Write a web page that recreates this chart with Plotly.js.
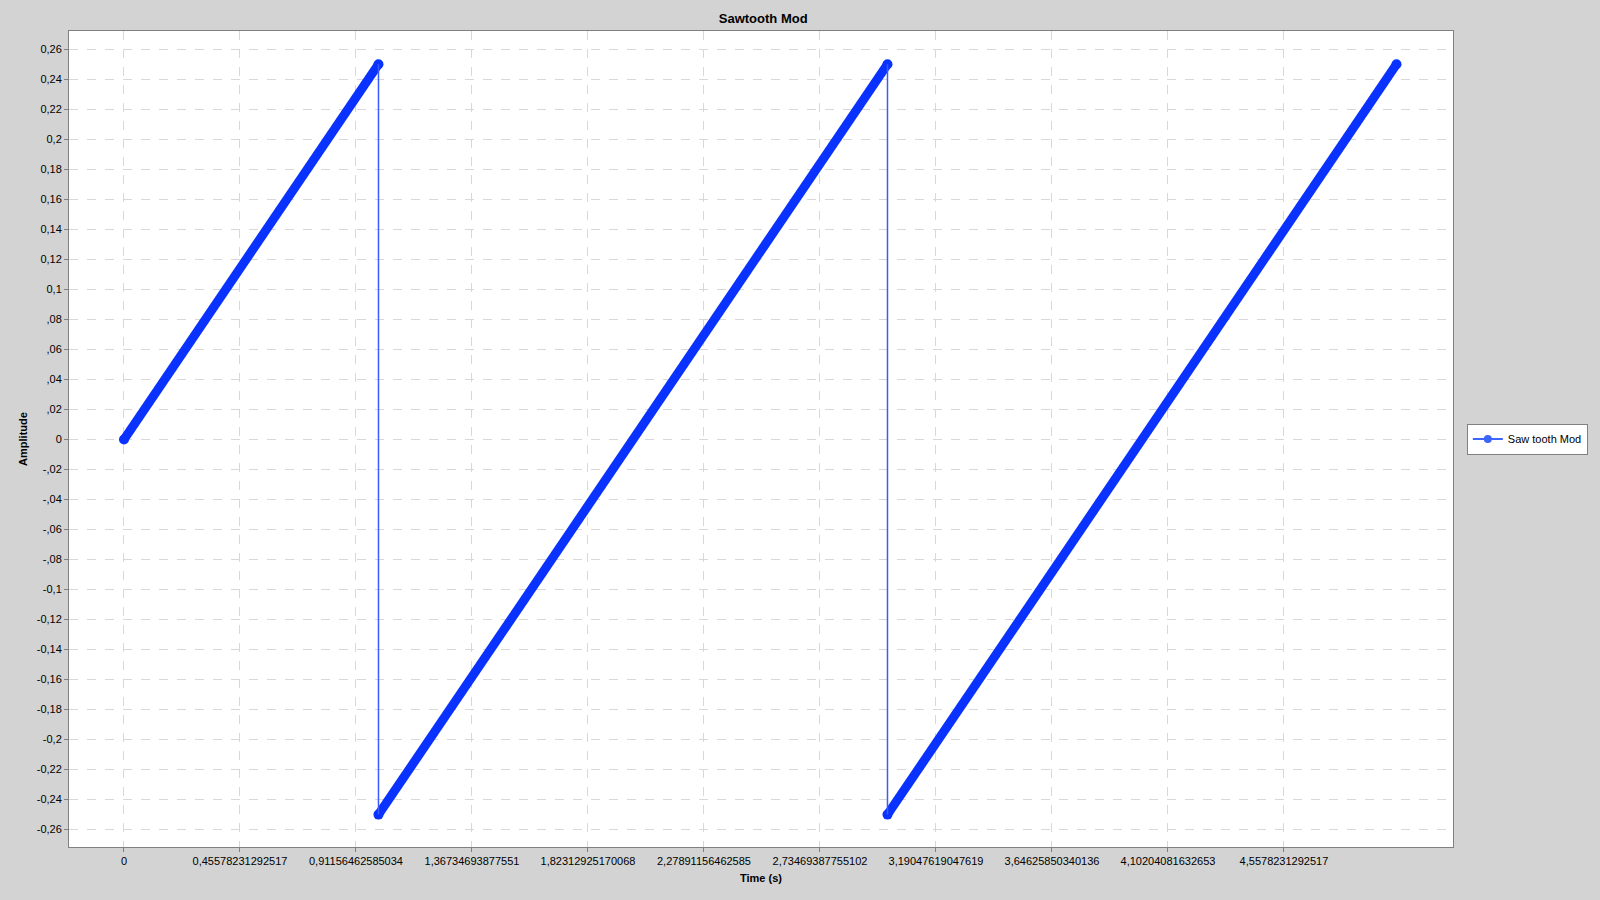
<!DOCTYPE html>
<html>
<head>
<meta charset="utf-8">
<script src="https://cdn.plot.ly/plotly-3.0.1.min.js"></script>
<style>
  html, body { margin: 0; padding: 0; background: #d3d3d3; }
  #chart { width: 1600px; height: 900px; }
</style>
</head>
<body>
<div id="chart"></div>
<script>
// Sawtooth: rises 0.25 per second, drops at t=1 and t=3
var rampTimes = [[0, 1], [1, 3], [3, 5]];
var rampValues = [[0, 0.25], [-0.25, 0.25], [-0.25, 0.25]];
var jumpTimes = [[1, 1], [3, 3]];
var jumpValues = [[0.25, -0.25], [0.25, -0.25]];

var xStep = 0.45578231292517;
var xTickVals = [];
var xTickText = [];
for (var i = 0; i < 11; i++) {
    xTickVals.push(i * xStep);
    xTickText.push(i === 0 ? '0' : String(i * xStep).replace('.', ','));
}
var xTickLabels = ['0', '0,45578231292517', '0,91156462585034', '1,36734693877551',
    '1,82312925170068', '2,27891156462585', '2,73469387755102', '3,19047619047619',
    '3,64625850340136', '4,10204081632653', '4,5578231292517'];

var yTickVals = [];
var yTickText = [];
for (var k = -13; k <= 13; k++) {
    var v = k * 0.02;
    yTickVals.push(v);
    var s = (Math.round(v * 100) / 100).toString().replace('.', ',');
    if (Math.abs(v) < 0.1 && k !== 0) s = s.replace('0,', ',');
    if (Math.abs(Math.abs(k) - 5) < 0.01) s = (k < 0 ? '-' : '') + '0,1';
    yTickText.push(s);
}

var blue = '#0a32ff';
var traces = [];
rampTimes.forEach(function(t, idx) {
    traces.push({
        x: t, y: rampValues[idx], type: 'scatter', mode: 'lines+markers',
        line: { color: blue, width: 9 }, marker: { color: blue, size: 10 },
        showlegend: false, hoverinfo: 'x+y'
    });
});
jumpTimes.forEach(function(t, idx) {
    traces.push({
        x: t, y: jumpValues[idx], type: 'scatter', mode: 'lines',
        line: { color: '#3c5aff', width: 1.5 }, showlegend: false
    });
});
traces.push({
    x: [null], y: [null], type: 'scatter', mode: 'lines+markers',
    name: 'Saw tooth Mod', line: { color: '#3c64ff', width: 2 },
    marker: { color: '#3c64ff', size: 8 }
});

var font = { family: 'Liberation Sans, Arial, sans-serif', color: '#000', size: 11 };
var layout = {
    width: 1600, height: 900,
    margin: { l: 69, r: 143, t: 31, b: 53 },
    paper_bgcolor: '#d3d3d3',
    plot_bgcolor: '#ffffff',
    font: font,
    title: { text: '<b>Sawtooth Mod</b>', font: { size: 13, family: font.family }, x: 0.477, y: 0.985, yanchor: 'top' },
    xaxis: {
        range: [-0.216, 5.222], tickvals: xTickVals, ticktext: xTickLabels,
        gridcolor: '#d8d8d8', griddash: 'dash', zeroline: false,
        showline: true, linecolor: '#808080', mirror: true,
        ticks: 'outside', ticklen: 4, tickcolor: '#808080',
        tickfont: { size: 11, family: font.family },
        title: { text: '<b>Time (s)</b>', font: { size: 11 }, standoff: 8 }
    },
    yaxis: {
        range: [-0.2716, 0.2722], tickvals: yTickVals, ticktext: yTickText,
        gridcolor: '#d8d8d8', griddash: 'dash', zeroline: false,
        showline: true, linecolor: '#808080', mirror: true,
        ticks: 'outside', ticklen: 4, tickcolor: '#808080',
        tickfont: { size: 11, family: font.family },
        title: { text: '<b>Amplitude</b>', font: { size: 11 }, standoff: 6 }
    },
    legend: {
        x: 1.01, y: 0.5, xanchor: 'left', yanchor: 'middle',
        bgcolor: '#ffffff', bordercolor: '#808080', borderwidth: 1,
        font: { size: 11 }
    }
};

Plotly.newPlot('chart', traces, layout, { displayModeBar: false });
</script>
</body>
</html>
